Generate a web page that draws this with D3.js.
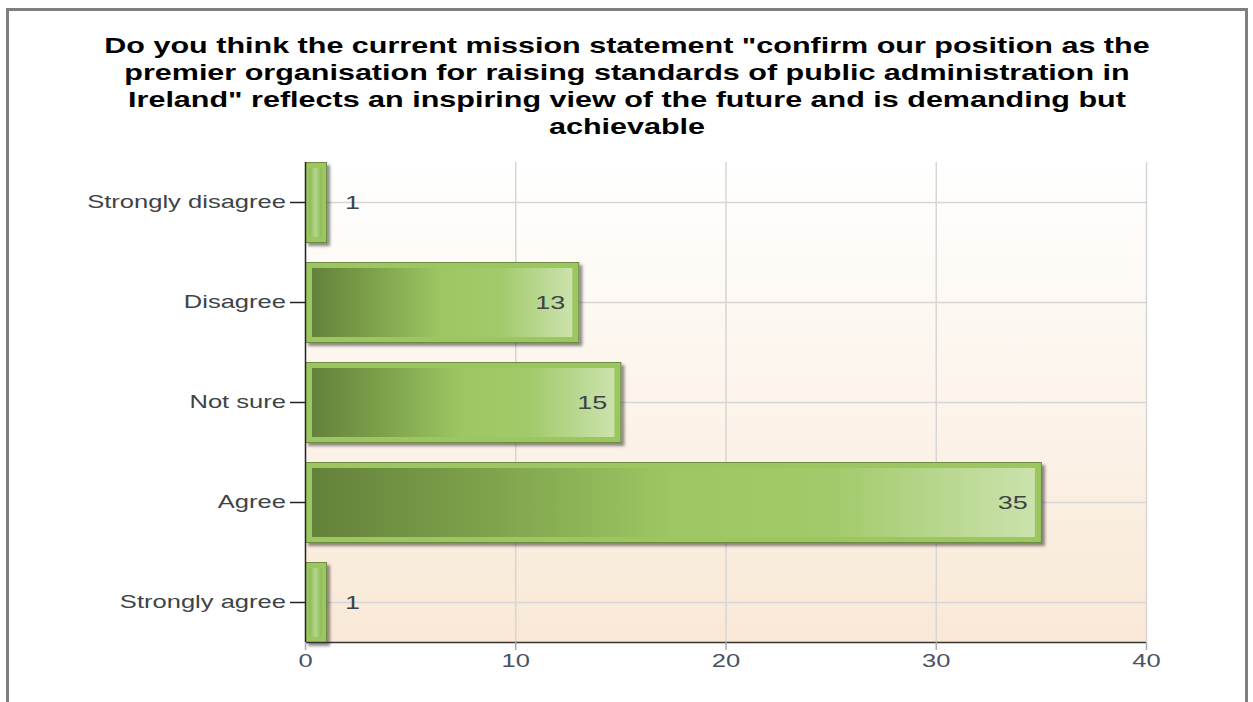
<!DOCTYPE html>
<html>
<head>
<meta charset="UTF-8">
<title>Mission statement survey</title>
<style>
  body { margin: 0; background: #fff; }
  svg { display: block; }
</style>
</head>
<body>
<svg></svg>
<script src="https://d3js.org/d3.v7.min.js"></script>
<script>
// data
const titleLines = [
  'Do you think the current mission statement "confirm our position as the',
  'premier organisation for raising standards of public administration in',
  'Ireland" reflects an inspiring view of the future and is demanding but',
  'achievable'
];
const categories = ["Strongly disagree", "Disagree", "Not sure", "Agree", "Strongly agree"];
const counts = [1, 13, 15, 35, 1];
const xTicks = [0, 10, 20, 30, 40];

const width = 1253, height = 702;
const plot = { left: 305, right: 1146, top: 162, bottom: 642 };
const font = "'Liberation Sans', Arial, sans-serif";
const stretch = 1.42; // the original text is drawn wide

const svg = d3.select("svg").attr("width", width).attr("height", height);
const defs = svg.append("defs");

// widen text horizontally around its x anchor
function widen(sel) {
  sel.each(function () {
    const t = d3.select(this);
    const x0 = +t.attr("x") || 0;
    t.attr("transform", `matrix(${stretch},0,0,1,${x0 * (1 - stretch)},0)`);
  });
}

// plot background
const bg = defs.append("linearGradient").attr("id", "bg")
  .attr("x1", 0).attr("y1", 0).attr("x2", 0).attr("y2", 1);
bg.append("stop").attr("offset", "0%").attr("stop-color", "#ffffff");
bg.append("stop").attr("offset", "100%").attr("stop-color", "#f9e8d6");

// bar fill
const bar = defs.append("linearGradient").attr("id", "barfill")
  .attr("x1", 0).attr("y1", 0).attr("x2", 1).attr("y2", 0);
bar.append("stop").attr("offset", "0%").attr("stop-color", "#64813a");
bar.append("stop").attr("offset", "25%").attr("stop-color", "#7fa34c");
bar.append("stop").attr("offset", "50%").attr("stop-color", "#9dc763");
bar.append("stop").attr("offset", "72%").attr("stop-color", "#a2ca6a");
bar.append("stop").attr("offset", "100%").attr("stop-color", "#cbe2ad");

const thin = defs.append("linearGradient").attr("id", "thinfill")
  .attr("x1", 0).attr("y1", 0).attr("x2", 1).attr("y2", 0);
thin.append("stop").attr("offset", "0%").attr("stop-color", "#8cb855");
thin.append("stop").attr("offset", "50%").attr("stop-color", "#b3d68a");
thin.append("stop").attr("offset", "100%").attr("stop-color", "#8cb855");

const shadow = defs.append("filter").attr("id", "shadow")
  .attr("x", "-20%").attr("y", "-20%").attr("width", "150%").attr("height", "150%");
shadow.append("feDropShadow").attr("dx", 3).attr("dy", 3)
  .attr("stdDeviation", 1.8).attr("flood-color", "#000").attr("flood-opacity", 0.45);

// frame
svg.append("path")
  .attr("d", `M7.5,${height} V9.5 H1246.5 V${height}`)
  .attr("fill", "none").attr("stroke", "#7f7f7f").attr("stroke-width", 3);

// title
svg.append("text")
  .attr("x", 627)
  .attr("text-anchor", "middle")
  .attr("font-family", font)
  .attr("font-weight", "bold").attr("font-size", 21.5).attr("fill", "#000")
  .call(widen)
  .selectAll("tspan").data(titleLines).join("tspan")
  .attr("x", 627).attr("y", (d, i) => 53 + i * 27)
  .text(d => d);

const x = d3.scaleLinear().domain([0, 40]).range([plot.left, plot.right]);
const y = d3.scalePoint().domain(categories).range([plot.top, plot.bottom]).padding(0.4);

svg.append("rect")
  .attr("x", plot.left).attr("y", plot.top)
  .attr("width", plot.right - plot.left).attr("height", plot.bottom - plot.top)
  .attr("fill", "url(#bg)");

// grid
svg.append("g").selectAll("line").data(xTicks.slice(1)).join("line")
  .attr("x1", d => x(d) + 0.5).attr("x2", d => x(d) + 0.5)
  .attr("y1", plot.top).attr("y2", plot.bottom)
  .attr("stroke", "#d6d6d6").attr("stroke-width", 1.5);
svg.append("g").selectAll("line").data(categories).join("line")
  .attr("x1", plot.left).attr("x2", plot.right)
  .attr("y1", d => y(d) + 0.5).attr("y2", d => y(d) + 0.5)
  .attr("stroke", "#d6d6d6").attr("stroke-width", 1.5);

// bars
const barH = 80;
const bars = svg.append("g").selectAll("g").data(categories).join("g");
bars.append("rect")
  .attr("x", plot.left + 0.5)
  .attr("y", d => y(d) - barH / 2 + 0.5)
  .attr("width", (d, i) => x(counts[i]) - plot.left)
  .attr("height", barH)
  .attr("fill", "#9cc761").attr("stroke", "#6e8a45").attr("stroke-width", 1)
  .attr("filter", "url(#shadow)");
bars.append("rect")
  .attr("x", (d, i) => plot.left + (counts[i] < 3 ? 4 : 7))
  .attr("y", d => y(d) - barH / 2 + 6)
  .attr("width", (d, i) => Math.max(0, x(counts[i]) - plot.left - (counts[i] < 3 ? 8 : 13)))
  .attr("height", barH - 11)
  .attr("fill", (d, i) => counts[i] < 3 ? "url(#thinfill)" : "url(#barfill)");

// value labels
bars.append("text")
  .attr("x", (d, i) => counts[i] < 3 ? x(counts[i]) + 19 : x(counts[i]) - 13)
  .attr("y", d => y(d) + 7)
  .attr("text-anchor", (d, i) => counts[i] < 3 ? "start" : "end")
  .attr("font-family", font)
  .attr("font-size", 19).attr("fill", "#3d4347")
  .text((d, i) => counts[i])
  .call(widen);

// y axis
const yAxis = svg.append("g").attr("transform", `translate(${plot.left},0)`)
  .call(d3.axisLeft(y).tickSize(15).tickPadding(4));
yAxis.select(".domain").attr("d", `M0.5,${plot.top}V${plot.bottom}`).attr("stroke", "#222").attr("stroke-width", 1.5);
yAxis.selectAll(".tick line").attr("stroke", "#222").attr("stroke-width", 1.5);
yAxis.selectAll(".tick text")
  .attr("font-family", font)
  .attr("font-size", 18).attr("fill", "#3d4347")
  .call(widen);

// x axis
const xAxis = svg.append("g").attr("transform", `translate(0,${plot.bottom})`)
  .call(d3.axisBottom(x).tickValues(xTicks).tickSize(8).tickPadding(4));
xAxis.select(".domain").attr("d", `M${plot.left},0.5H${plot.right}`).attr("stroke", "#333").attr("stroke-width", 1.5);
xAxis.selectAll(".tick line").attr("stroke", "#aaa").attr("stroke-width", 1.5);
xAxis.selectAll(".tick text")
  .attr("font-family", font)
  .attr("font-size", 18).attr("fill", "#4a5160")
  .call(widen);
</script>
</body>
</html>
